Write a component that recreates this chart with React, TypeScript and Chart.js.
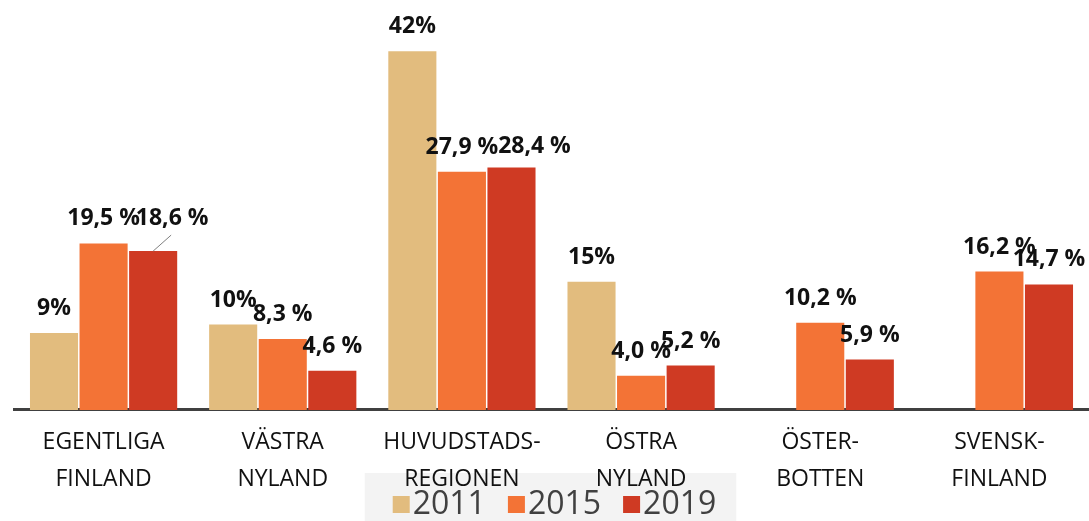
import React, { useEffect, useRef } from 'react';
import { Chart, registerables } from 'chart.js';

Chart.register(...registerables);

const categories: string[][] = [
  ['EGENTLIGA', 'FINLAND'],
  ['VÄSTRA', 'NYLAND'],
  ['HUVUDSTADS-', 'REGIONEN'],
  ['ÖSTRA', 'NYLAND'],
  ['ÖSTER-', 'BOTTEN'],
  ['SVENSK-', 'FINLAND'],
];
const seriesNames = ['2011', '2015', '2019'];
const values2011: (number | null)[] = [9, 10, 42, 15, null, null];
const values2015: (number | null)[] = [19.5, 8.3, 27.9, 4.0, 10.2, 16.2];
const values2019: (number | null)[] = [18.6, 4.6, 28.4, 5.2, 5.9, 14.7];
const seriesColors = ['#E2BC7E', '#F37336', '#CF3A23'];

// small label nudges (dataset-index) for overlapping labels
const labelNudges: Record<string, { dx: number; dy: number; leader?: boolean }> = {
  '2-0': { dx: 19, dy: -8, leader: true },
  '2-2': { dx: 23, dy: 4 },
};

const formatLabel = (di: number, v: number) =>
  di === 0 ? `${v}%` : `${v.toFixed(1).replace('.', ',')} %`;

const valueLabels = {
  id: 'valueLabels',
  afterDatasetsDraw(chart: any) {
    const ctx = chart.ctx;
    ctx.save();
    ctx.font = 'bold 23px "Open Sans"';
    ctx.fillStyle = '#111111';
    ctx.textAlign = 'center';
    ctx.textBaseline = 'alphabetic';
    chart.data.datasets.forEach((ds: any, di: number) => {
      const meta = chart.getDatasetMeta(di);
      meta.data.forEach((bar: any, i: number) => {
        const v = ds.data[i];
        if (v == null) return;
        const n = labelNudges[`${di}-${i}`] || { dx: 0, dy: 0 };
        if (n.leader) {
          ctx.save();
          ctx.strokeStyle = '#7f7f7f';
          ctx.lineWidth = 1;
          ctx.beginPath();
          ctx.moveTo(bar.x, bar.y);
          ctx.lineTo(bar.x + 18, bar.y - 16);
          ctx.stroke();
          ctx.restore();
        }
        ctx.fillText(formatLabel(di, v), bar.x + n.dx, bar.y - 18 + n.dy);
      });
    });
    ctx.restore();
  },
};

const customLegend = {
  id: 'customLegend',
  _layout(chart: any) {
    const ctx = chart.ctx;
    ctx.save();
    ctx.font = '32px "Open Sans"';
    const box = 17;
    const gapText = 3;
    const gapItem = 22;
    const widths = seriesNames.map((s) => ctx.measureText(s).width);
    ctx.restore();
    const total = widths.reduce((a, w) => a + box + gapText + w, 0) + gapItem * (seriesNames.length - 1);
    const center = chart.width / 2 + 10;
    const start = center - total / 2;
    return { box, gapText, gapItem, widths, total, start };
  },
  beforeDraw(chart: any) {
    const L = (customLegend as any)._layout(chart);
    const ctx = chart.ctx;
    ctx.save();
    ctx.fillStyle = '#f3f3f3';
    ctx.fillRect(L.start - 28, 473, L.total + 48, chart.height - 473);
    ctx.restore();
  },
  afterDraw(chart: any) {
    const L = (customLegend as any)._layout(chart);
    const ctx = chart.ctx;
    ctx.save();
    ctx.font = '32px "Open Sans"';
    ctx.textBaseline = 'alphabetic';
    ctx.textAlign = 'left';
    let x = L.start;
    const baseY = 514;
    seriesNames.forEach((name, i) => {
      ctx.fillStyle = seriesColors[i];
      ctx.fillRect(x, baseY - 18, L.box, L.box);
      x += L.box + L.gapText;
      ctx.fillStyle = '#404040';
      ctx.fillText(name, x, baseY);
      x += L.widths[i] + L.gapItem;
    });
    ctx.restore();
  },
};

export default function App() {
  const canvasRef = useRef<HTMLCanvasElement | null>(null);

  useEffect(() => {
    document.body.style.margin = '0';
    const canvas = canvasRef.current;
    if (!canvas) return;
    const seriesValues = [values2011, values2015, values2019];
    const chart = new Chart(canvas, {
      type: 'bar',
      data: {
        labels: categories,
        datasets: seriesNames.map((name, i) => ({
          label: name,
          data: seriesValues[i],
          backgroundColor: seriesColors[i],
          borderWidth: 0,
          barPercentage: 0.97,
          categoryPercentage: 0.83,
        })),
      },
      options: {
        responsive: false,
        animation: false,
        devicePixelRatio: 1,
        layout: { padding: { left: 14, right: 0, top: 0, bottom: 9 } },
        plugins: {
          legend: { display: false },
          tooltip: { enabled: false },
          title: { display: false },
        },
        scales: {
          x: {
            grid: { display: false, drawTicks: false },
            border: { display: true, color: '#404040', width: 3 },
            ticks: {
              autoSkip: false,
              maxRotation: 0,
              minRotation: 0,
              padding: 14,
              color: '#111111',
              font: { family: '"Open Sans"', size: 23, lineHeight: 1.61 },
            },
          },
          y: {
            display: false,
            min: 0,
            max: 48,
          },
        },
      },
      plugins: [valueLabels, customLegend],
    });
    return () => chart.destroy();
  }, []);

  return (
    <div style={{ position: 'absolute', left: 0, top: 0, width: 1089, height: 521 }}>
      <canvas ref={canvasRef} width={1089} height={521} />
    </div>
  );
}
